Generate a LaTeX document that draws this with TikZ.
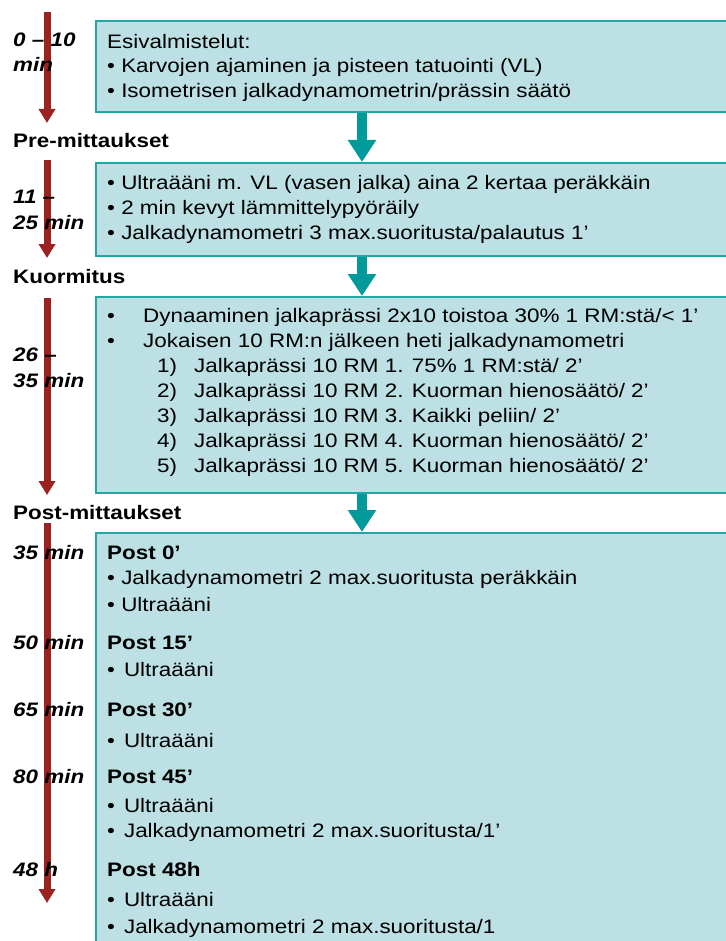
\documentclass[tikz,border=0pt]{standalone}
\usepackage{fontspec}
\setmainfont{Liberation Sans}[FakeStretch=1.15]
\usetikzlibrary{positioning,arrows.meta}
\definecolor{boxfill}{HTML}{BCE0E3}
\definecolor{boxline}{HTML}{22A6A6}
\definecolor{tealarr}{HTML}{009A9A}
\definecolor{redarr}{HTML}{9C2222}

\tikzset{
  box/.style={draw=boxline, line width=2pt, fill=boxfill, anchor=north west, inner sep=0pt, minimum width=650pt},
  txt/.style={anchor=west, inner sep=0pt, font=\fontsize{19.5}{21}\selectfont},
  hdr/.style={txt, font=\fontsize{19.5}{21}\selectfont\bfseries},
  lbl/.style={txt, font=\fontsize{19.5}{21}\selectfont\bfseries\itshape},
  down/.style={draw=tealarr, line width=10pt, -{Triangle[width=27pt,length=22pt]}},
  time/.style={draw=redarr, line width=7pt, -{Triangle[width=16pt,length=14pt]}},
}

\begin{document}
\begin{tikzpicture}[x=1pt,y=-1pt]
  \useasboundingbox (0,0) rectangle (725,941);

  \node[box, minimum height=91pt] (esi) at (95,20) {};
  \node[box, minimum height=93pt] (pre) at (95,162) {};
  \node[box, minimum height=196pt] (kuo) at (95,296) {};
  \node[box, minimum height=420pt] (post) at (95,532) {};

  \coordinate (mid) at (362,0);
  \draw[down] (esi.south -| mid) -- (pre.north -| mid);
  \draw[down] (pre.south -| mid) -- (kuo.north -| mid);
  \draw[down] (kuo.south -| mid) -- (post.north -| mid);

  \coordinate (r1a) at (47,12);  \coordinate (r1b) at (47,123);
  \coordinate (r2a) at (47,160); \coordinate (r2b) at (47,258);
  \coordinate (r3a) at (47,298); \coordinate (r3b) at (47,495);
  \coordinate (r4a) at (47,523); \coordinate (r4b) at (47,903);
  \draw[time] (r1a) -- (r1b);
  \draw[time] (r2a) -- (r2b);
  \draw[time] (r3a) -- (r3b);
  \draw[time] (r4a) -- (r4b);

  \node[lbl] (t1a) at (13,40) {0 -- 10};
  \node[lbl] (t1b) at (13,64) {min};
  \node[hdr] (h1) at (13,141) {Pre-mittaukset};
  \node[lbl] (t2a) at (13,197) {11 --};
  \node[lbl] (t2b) at (13,223) {25 min};
  \node[hdr] (h2) at (13,277) {Kuormitus};
  \node[lbl] (t3a) at (13,355) {26 --};
  \node[lbl] (t3b) at (13,381) {35 min};
  \node[hdr] (h3) at (13,513) {Post-mittaukset};
  \node[lbl] (t4) at (13,553) {35 min};
  \node[lbl] (t5) at (13,643) {50 min};
  \node[lbl] (t6) at (13,710) {65 min};
  \node[lbl] (t7) at (13,777) {80 min};
  \node[lbl] (t8) at (13,870) {48 h};

  \node[txt] (e1) at (107,42) {Esivalmistelut:};
  \node[txt] (e2) at (107,67) {• Karvojen ajaminen ja pisteen tatuointi (VL)};
  \node[txt] (e3) at (107,92) {• Isometrisen jalkadynamometrin/prässin säätö};

  \node[txt] (p1) at (107,184) {• Ultraääni m. VL (vasen jalka) aina 2 kertaa peräkkäin};
  \node[txt] (p2) at (107,209) {• 2 min kevyt lämmittelypyöräily};
  \node[txt] (p3) at (107,234) {• Jalkadynamometri 3 max.suoritusta/palautus 1’};

  \node[txt] (k1) at (107,317) {\makebox[36pt][l]{•}Dynaaminen jalkaprässi 2x10 toistoa 30\% 1 RM:stä/< 1’};
  \node[txt] (k2) at (107,342) {\makebox[36pt][l]{•}Jokaisen 10 RM:n jälkeen heti jalkadynamometri};
  \node[txt] (k3) at (157,367) {\makebox[37pt][l]{1)}Jalkaprässi 10 RM 1. 75\% 1 RM:stä/ 2’};
  \node[txt] (k4) at (157,392) {\makebox[37pt][l]{2)}Jalkaprässi 10 RM 2. Kuorman hienosäätö/ 2’};
  \node[txt] (k5) at (157,417) {\makebox[37pt][l]{3)}Jalkaprässi 10 RM 3. Kaikki peliin/ 2’};
  \node[txt] (k6) at (157,442) {\makebox[37pt][l]{4)}Jalkaprässi 10 RM 4. Kuorman hienosäätö/ 2’};
  \node[txt] (k7) at (157,467) {\makebox[37pt][l]{5)}Jalkaprässi 10 RM 5. Kuorman hienosäätö/ 2’};

  \node[hdr] (s1) at (107,553) {Post 0’};
  \node[txt] (s1a) at (107,579) {• Jalkadynamometri 2 max.suoritusta peräkkäin};
  \node[txt] (s1b) at (107,605) {• Ultraääni};
  \node[hdr] (s2) at (107,643) {Post 15’};
  \node[txt] (s2a) at (107,670) {•\hspace{9pt}Ultraääni};
  \node[hdr] (s3) at (107,710) {Post 30’};
  \node[txt] (s3a) at (107,741) {•\hspace{9pt}Ultraääni};
  \node[hdr] (s4) at (107,777) {Post 45’};
  \node[txt] (s4a) at (107,806) {•\hspace{9pt}Ultraääni};
  \node[txt] (s4b) at (107,832) {•\hspace{9pt}Jalkadynamometri 2 max.suoritusta/1’};
  \node[hdr] (s5) at (107,870) {Post 48h};
  \node[txt] (s5a) at (107,900) {•\hspace{9pt}Ultraääni};
  \node[txt] (s5b) at (107,928) {•\hspace{9pt}Jalkadynamometri 2 max.suoritusta/1};
\end{tikzpicture}
\end{document}
